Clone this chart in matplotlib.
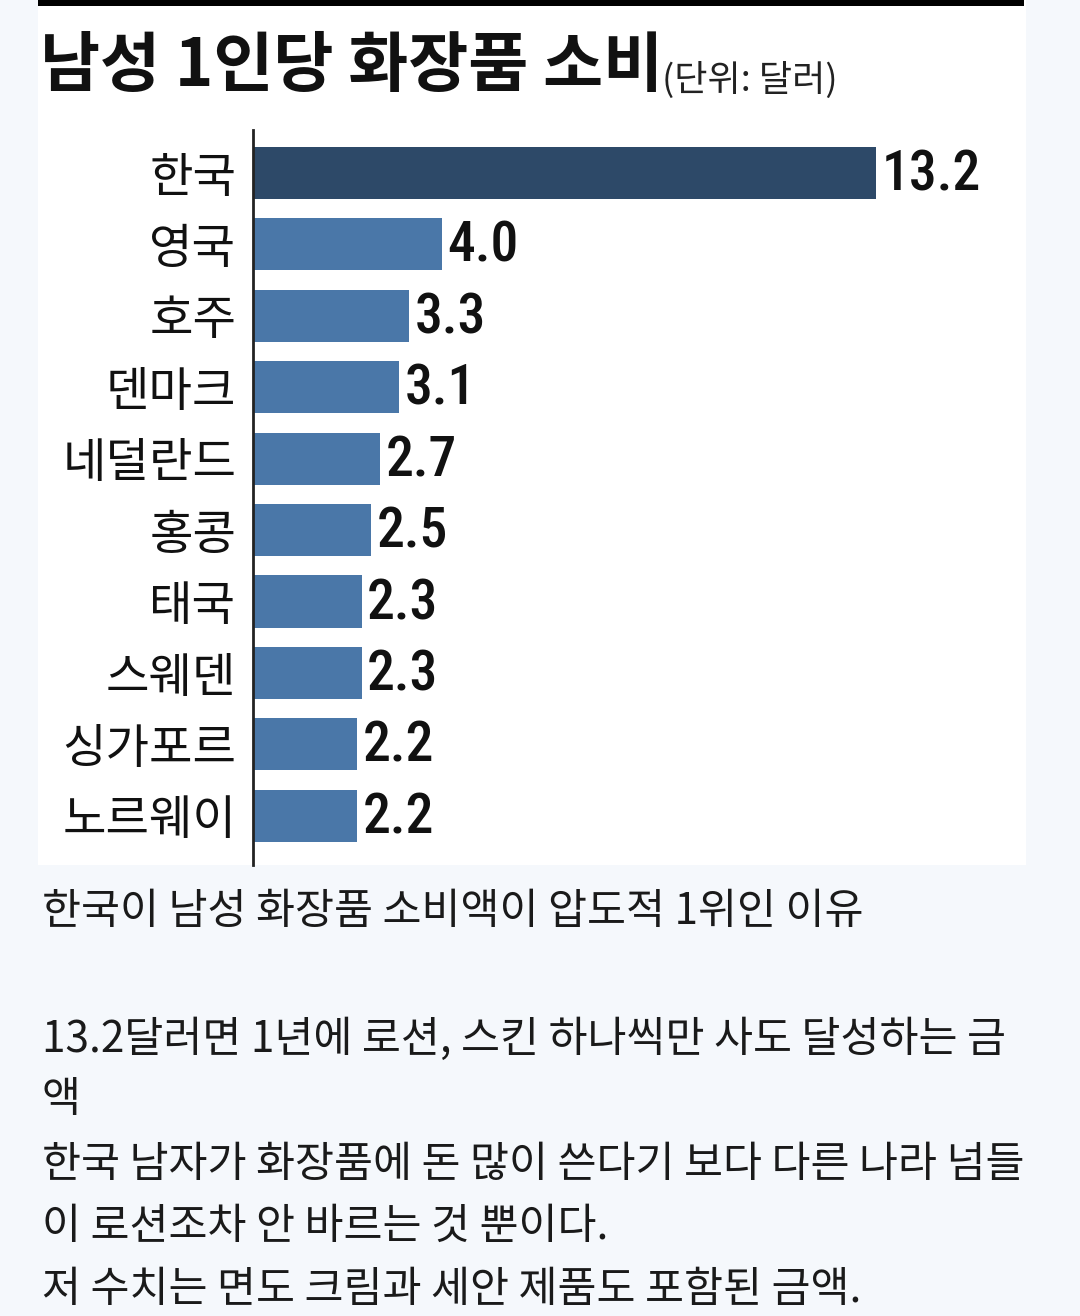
import matplotlib
matplotlib.use("Agg")
import matplotlib.pyplot as plt
from matplotlib.patches import Rectangle
from matplotlib import font_manager

plt.rcParams['font.family'] = ['Noto Sans CJK KR', 'DejaVu Sans']

# data
countries = ["한국", "영국", "호주", "덴마크", "네덜란드", "홍콩", "태국", "스웨덴", "싱가포르", "노르웨이"]
spend = [13.2, 4.0, 3.3, 3.1, 2.7, 2.5, 2.3, 2.3, 2.2, 2.2]
value_labels = ["13.2", "4.0", "3.3", "3.1", "2.7", "2.5", "2.3", "2.3", "2.2", "2.2"]

title = "남성 1인당 화장품 소비"
unit = "(단위: 달러)"
body_lines = [
    ("한국이 남성 화장품 소비액이 압도적 1위인 이유", 912),
    ("13.2달러면 1년에 로션, 스킨 하나씩만 사도 달성하는 금", 1040),
    ("액", 1100),
    ("한국 남자가 화장품에 돈 많이 쓴다기 보다 다른 나라 넘들", 1165),
    ("이 로션조차 안 바르는 것 뿐이다.", 1227),
    ("저 수치는 면도 크림과 세안 제품도 포함된 금액.", 1290),
]

# narrow font for the numbers, if one is around
names = {f.name for f in font_manager.fontManager.ttflist}
num_family = ["DejaVu Sans"]
for cand in ["Liberation Sans Narrow", "DejaVu Sans Condensed", "Roboto Condensed"]:
    if cand in names:
        num_family = [cand]
        break

W, H = 1080, 1316
fig = plt.figure(figsize=(W / 100, H / 100), dpi=100)
fig.patch.set_facecolor("#f5f8fc")

def fx(px):
    return px / W

def fy(py):
    return 1 - py / H

# white chart card + top rule
fig.patches.append(Rectangle((fx(38), fy(865)), fx(1026 - 38), 865 / H,
                             transform=fig.transFigure, facecolor="white",
                             edgecolor="none", zorder=0))
fig.patches.append(Rectangle((fx(38), fy(6)), fx(1024 - 38), 6 / H,
                             transform=fig.transFigure, facecolor="black",
                             edgecolor="none", zorder=1))

fig.text(fx(40), fy(66), title, fontsize=47, fontweight="black",
         ha="left", va="center", color="#111111", zorder=3)
fig.text(fx(662), fy(80), unit, fontsize=26, fontweight="medium",
         ha="left", va="center", color="#222222", zorder=3)

# bar axes: left edge at axis line x=253, 47.2 px per dollar
left, right = 253, 1026
ax = fig.add_axes([fx(left), fy(865), fx(right - left), (865 - 130) / H])
ax.set_zorder(2)
ax.set_facecolor("none")
pos = list(range(len(countries)))
colors = ["#2d4968"] + ["#4a77a8"] * (len(countries) - 1)
ax.barh(pos, spend, height=0.73, color=colors, edgecolor="none", zorder=2)
ax.set_xlim(0, (right - left) / 47.2)
ax.set_ylim(9.69, -0.60)

for i, (v, lab) in enumerate(zip(spend, value_labels)):
    ax.text(v + 0.12, i + 0.03, lab, fontsize=40, ha="left", va="center",
            color="#111111", family=num_family, fontstretch="condensed",
            fontweight="medium")

ax.set_yticks(pos)
ax.set_yticklabels(countries, fontsize=34, fontweight="medium", color="#111111")
ax.tick_params(axis="y", length=0, pad=12)
ax.set_xticks([])
for s in ["top", "right", "bottom"]:
    ax.spines[s].set_visible(False)
ax.spines["left"].set_linewidth(2)
ax.spines["left"].set_color("#222222")

for txt, y in body_lines:
    fig.text(fx(42), fy(y), txt, fontsize=30.5, ha="left", va="center",
             color="#1a1a1a")

fig.savefig("out.png", dpi=100, facecolor=fig.get_facecolor())
